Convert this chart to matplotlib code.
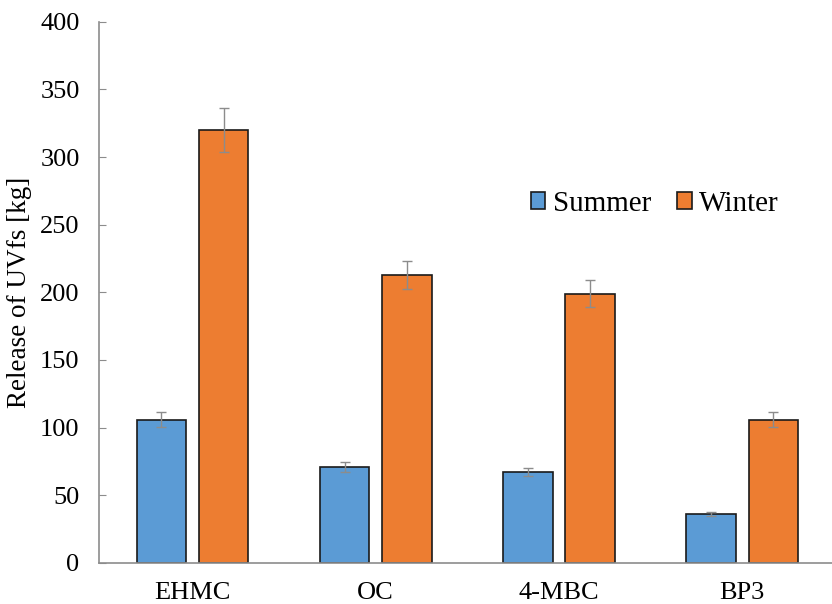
import matplotlib
matplotlib.use("Agg")
import matplotlib.pyplot as plt
import numpy as np

plt.rcParams['font.family'] = ['Liberation Serif', 'DejaVu Serif']

# values
compounds = ['EHMC', 'OC', '4-MBC', 'BP3']
summer = [106, 71, 67, 36]
summer_err = [5.5, 3.5, 3, 1.5]
winter = [320, 213, 199, 106]
winter_err = [16, 10.5, 10, 5.5]
yticks = [0, 50, 100, 150, 200, 250, 300, 350, 400]

x = np.arange(len(compounds))
w = 0.27
grey = '#8c8c8c'
ekw = dict(ecolor=grey, elinewidth=1, capsize=3.3, capthick=1)

fig = plt.figure(figsize=(8.32, 6.04), dpi=100)
ax = fig.add_axes([0.119, 0.068, 0.881, 0.896])

ax.bar(x - 0.17, summer, w, color='#5b9bd5', edgecolor='#1a1a1a', linewidth=1.2,
       yerr=summer_err, error_kw=ekw, label='Summer', zorder=2)
ax.bar(x + 0.17, winter, w, color='#ed7d31', edgecolor='#1a1a1a', linewidth=1.2,
       yerr=winter_err, error_kw=ekw, label='Winter', zorder=2)

ax.set_xlim(-0.51, 3.49)
ax.set_ylim(0, 400)
ax.set_yticks(yticks)
ax.set_xticks(x)
ax.set_xticklabels(compounds, fontsize=19)
ax.tick_params(axis='y', labelsize=19, length=5, color=grey, direction='in', pad=14)
ax.tick_params(axis='x', length=0, pad=14)
ax.set_ylabel('Release of UVfs [kg]', fontsize=19.5, labelpad=6)

for s in ['top', 'right']:
    ax.spines[s].set_visible(False)
for s in ['left', 'bottom']:
    ax.spines[s].set_color(grey)
    ax.spines[s].set_linewidth(1.2)

ax.legend(loc='center', bbox_to_anchor=(0.787, 0.662), bbox_transform=fig.transFigure,
          ncol=2, frameon=False, fontsize=21, handlelength=0.5, handleheight=0.5,
          handletextpad=0.25, columnspacing=0.9)

fig.savefig('out.png', dpi=100)
